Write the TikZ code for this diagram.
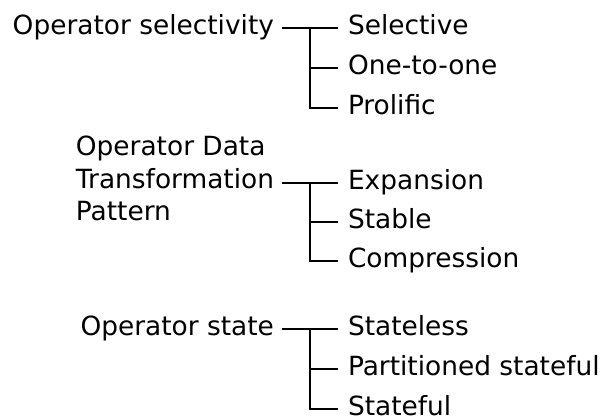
\documentclass[tikz,border=0pt]{standalone}
\usepackage{fontspec}
\setmainfont{DejaVu Sans}
\usepackage{tikz}
\tikzset{
    x=1pt, y=-1pt, % one unit is one pixel of the layout, y runs downwards
    every node/.style={font=\fontsize{26.4pt}{32.5pt}\selectfont, inner sep=0pt}, % sets the text size for each node
}

\begin{document}
\begin{tikzpicture}[
                        line width=2.2pt, % makes the branch lines bold
                        styleHead/.style={anchor=east, outer xsep=8pt},
                        styleLine/.style={text height=20pt, text depth=6.3pt},
                        styleItem/.style={anchor=west, outer xsep=10pt, styleLine},
                    ]
                    \useasboundingbox (0,0) rectangle (603,419);

                    \node[styleHead, styleLine] (opsel) at (282,28) {Operator selectivity};
                    \node[styleItem] (selective) at (338,28) {Selective};
                    \node[styleItem] (onetoone) at (338,68) {One-to-one};
                    \node[styleItem] (prolific) at (338,108) {Prolific};

                    \node[styleHead, align=left] (optrans) at (282,178.5) {Operator Data\\Transformation\\Pattern};
                    \node[styleItem] (expansion) at (338,183) {Expansion};
                    \node[styleItem] (stable) at (338,222) {Stable};
                    \node[styleItem] (compression) at (338,261) {Compression};

                    \node[styleHead, styleLine] (opstate) at (282,329) {Operator state};
                    \node[styleItem] (stateless) at (338,329) {Stateless};
                    \node[styleItem] (partitioned) at (338,369) {Partitioned stateful};
                    \node[styleItem] (stateful) at (338,409) {Stateful};

                    \draw (opsel.east |- selective.west) -- (selective.west);
                    \draw (selective.west) ++(-28,0) |- (prolific.west);
                    \draw (onetoone.west) -- ++(-28,0);

                    \draw (optrans.east |- expansion.west) -- (expansion.west);
                    \draw (expansion.west) ++(-28,0) |- (compression.west);
                    \draw (stable.west) -- ++(-28,0);

                    \draw (opstate.east |- stateless.west) -- (stateless.west);
                    \draw (stateless.west) ++(-28,0) |- (stateful.west);
                    \draw (partitioned.west) -- ++(-28,0);
                \end{tikzpicture}
\end{document}
